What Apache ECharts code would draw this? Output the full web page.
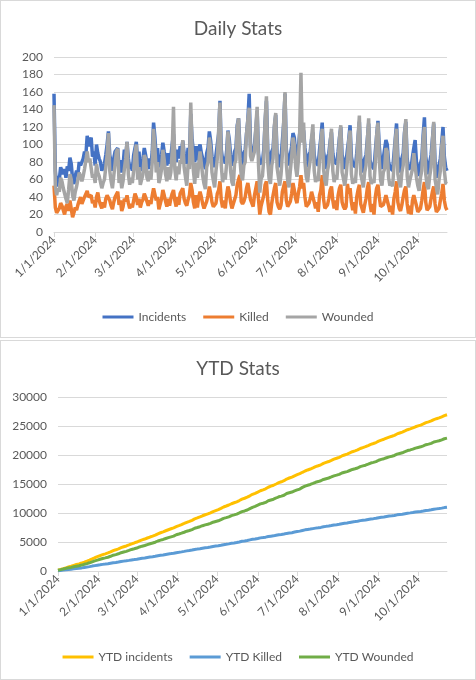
<!DOCTYPE html>
<html>
<head>
<meta charset="utf-8">
<title>Daily / YTD Stats</title>
<script src="https://cdn.jsdelivr.net/npm/echarts@6/dist/echarts.min.js"></script>
<style>
    html, body { margin: 0; padding: 0; background: #fff; }
    .panel { width: 476px; box-sizing: border-box; border: 1px solid #d9d9d9; background: #fff; }
    #daily { height: 338px; }
    #ytd { height: 340px; margin-top: 2px; }
</style>
</head>
<body>
<div id="daily" class="panel"></div>
<div id="ytd" class="panel"></div>
<script>
// Daily counts from 1/1/2024, one line per week (Mon..Sun)
const incidents = [
    158, 70, 52, 64, 60, 74, 70,
    66, 72, 62, 75, 70, 85, 78,
    60, 55, 64, 70, 66, 80, 76,
    74, 84, 92, 88, 110, 98, 104,
    108, 86, 92, 76, 100, 90, 84,
    80, 70, 74, 78, 88, 100, 115,
    88, 80, 70, 84, 92, 90, 96,
    74, 82, 68, 76, 94, 86, 103,
    84, 72, 78, 70, 88, 96, 103,
    80, 92, 70, 76, 84, 96, 88,
    78, 72, 84, 76, 92, 125, 108,
    86, 96, 74, 80, 88, 102, 92,
    84, 76, 90, 78, 86, 100, 112,
    88, 80, 94, 84, 98, 92, 104,
    90, 86, 78, 96, 88, 135, 106,
    92, 80, 98, 82, 94, 100, 90,
    84, 78, 72, 90, 96, 115, 104,
    86, 82, 74, 88, 100, 112, 150,
    94, 82, 86, 78, 92, 116, 106,
    88, 80, 76, 92, 96, 122, 130,
    98, 86, 76, 90, 94, 112, 128,
    158, 98, 86, 84, 100, 116, 138,
    90, 78, 80, 80, 94, 126, 150,
    94, 82, 74, 92, 96, 120, 134,
    90, 86, 74, 84, 104, 124, 158,
    94, 84, 76, 88, 98, 113, 108,
    90, 84, 96, 112, 122, 104, 116,
    96, 84, 74, 88, 92, 106, 114,
    88, 80, 80, 76, 94, 108, 125,
    92, 82, 72, 86, 90, 104, 114,
    90, 80, 80, 78, 92, 108, 120,
    88, 82, 72, 80, 94, 106, 122,
    86, 78, 78, 74, 90, 108, 126,
    84, 80, 68, 84, 88, 106, 124,
    82, 76, 76, 72, 92, 110, 127,
    98, 80, 72, 84, 86, 105, 100,
    80, 74, 74, 70, 88, 106, 124,
    86, 80, 68, 84, 90, 114, 126,
    84, 72, 74, 74, 86, 96, 105,
    80, 72, 64, 78, 84, 110, 131,
    86, 74, 66, 80, 88, 106, 124,
    80, 70, 62, 76, 84, 102, 120,
    86, 74, 70
];

const killed = [
    53, 28, 22, 20, 27, 33, 30,
    25, 20, 29, 32, 24, 36, 34,
    17, 22, 28, 25, 31, 36, 40,
    32, 36, 40, 38, 47, 40, 38,
    42, 33, 36, 28, 40, 45, 36,
    31, 27, 34, 28, 38, 42, 44,
    36, 30, 26, 34, 40, 38, 46,
    31, 36, 24, 29, 38, 35, 42,
    33, 27, 32, 28, 36, 44, 40,
    31, 38, 28, 34, 37, 44, 40,
    35, 30, 36, 32, 42, 50, 48,
    36, 40, 26, 32, 38, 48, 42,
    35, 29, 38, 30, 38, 44, 48,
    36, 29, 40, 31, 44, 42, 50,
    38, 33, 30, 37, 42, 56, 48,
    34, 27, 42, 28, 40, 46, 40,
    32, 27, 26, 35, 42, 52, 44,
    34, 29, 27, 33, 44, 48, 58,
    36, 28, 36, 27, 42, 52, 46,
    34, 27, 28, 37, 42, 54, 60,
    65, 35, 32, 35, 40, 50, 56,
    54, 37, 36, 29, 42, 50, 58,
    38, 20, 30, 31, 42, 54, 58,
    36, 23, 20, 33, 42, 50, 56,
    34, 29, 26, 31, 46, 52, 58,
    36, 29, 28, 35, 44, 56, 48,
    38, 33, 44, 52, 65, 50, 56,
    40, 29, 28, 33, 38, 46, 48,
    34, 27, 34, 23, 42, 48, 65,
    38, 27, 26, 31, 38, 48, 52,
    36, 27, 36, 25, 42, 50, 54,
    34, 29, 26, 29, 55, 44, 50,
    34, 25, 34, 21, 40, 48, 54,
    32, 27, 22, 31, 38, 50, 57,
    32, 23, 32, 20, 40, 50, 54,
    40, 29, 28, 31, 36, 42, 40,
    30, 23, 30, 20, 38, 46, 58,
    34, 27, 24, 31, 40, 48, 52,
    32, 21, 30, 20, 36, 42, 44,
    30, 23, 22, 27, 36, 48, 57,
    34, 25, 24, 29, 38, 46, 52,
    32, 23, 22, 27, 36, 44, 55,
    36, 28, 25
];

const wounded = [
    145, 52, 42, 50, 46, 62, 58,
    50, 44, 38, 33, 48, 66, 60,
    42, 36, 46, 52, 50, 68, 64,
    58, 64, 72, 70, 92, 80, 84,
    82, 62, 66, 56, 78, 68, 64,
    62, 50, 56, 60, 74, 88, 113,
    70, 58, 50, 64, 78, 92, 95,
    56, 66, 50, 58, 72, 84, 103,
    66, 54, 62, 56, 70, 90, 100,
    60, 74, 54, 60, 66, 88, 84,
    62, 58, 70, 60, 80, 118, 96,
    68, 80, 56, 62, 72, 94, 82,
    66, 58, 74, 60, 68, 92, 143,
    72, 59, 75, 66, 82, 78, 105,
    74, 63, 53, 78, 72, 148, 96,
    70, 55, 79, 62, 78, 92, 78,
    64, 55, 49, 74, 80, 108, 94,
    68, 59, 51, 70, 84, 116, 148,
    76, 57, 67, 60, 78, 115, 98,
    70, 57, 53, 78, 82, 120, 130,
    84, 65, 59, 76, 80, 112, 128,
    142, 87, 81, 80, 92, 120, 143,
    78, 45, 61, 64, 84, 128, 155,
    80, 61, 55, 76, 84, 122, 136,
    74, 63, 53, 66, 88, 126, 160,
    78, 59, 51, 70, 86, 108, 100,
    74, 63, 81, 112, 182, 102, 125,
    80, 63, 57, 72, 82, 108, 123,
    70, 57, 63, 58, 82, 104, 118,
    72, 59, 53, 70, 78, 102, 118,
    70, 57, 65, 60, 80, 106, 122,
    68, 61, 53, 64, 82, 104, 116,
    66, 55, 61, 56, 78, 108, 133,
    66, 59, 51, 68, 76, 104, 130,
    64, 55, 59, 56, 78, 110, 125,
    82, 59, 53, 68, 72, 96, 92,
    62, 53, 57, 52, 74, 104, 118,
    66, 57, 51, 68, 76, 112, 129,
    64, 51, 59, 58, 72, 90, 92,
    62, 53, 47, 62, 70, 104, 120,
    66, 53, 49, 64, 74, 104, 126,
    60, 51, 43, 60, 70, 98, 110,
    70, 56, 55
];

const startDate = [2024, 0, 1];
const dailyNames = ['Incidents', 'Killed', 'Wounded'];
const ytdNames = ['YTD incidents', 'YTD Killed', 'YTD Wounded'];
const dailyColors = ['#4472C4', '#ED7D31', '#A5A5A5'];
const ytdColors = ['#FFC000', '#5B9BD5', '#70AD47'];

const FONT = 'Lato, "Open Sans", sans-serif';
const TEXT = '#595959';

// one label per day, M/D/YYYY like the spreadsheet
const dates = incidents.map((_, i) => {
    const d = new Date(Date.UTC(startDate[0], startDate[1], startDate[2] + i));
    return (d.getUTCMonth() + 1) + '/' + d.getUTCDate() + '/' + d.getUTCFullYear();
});

// YTD = running totals of the daily counts
const runningTotal = arr => {
    let sum = 0;
    return arr.map(v => (sum += v));
};

const isMonthStart = (idx, val) => val.split('/')[1] === '1';

function buildOption(title, names, colors, series, yMax, yStep, layout) {
    return {
        animation: false,
        textStyle: { fontFamily: FONT },
        title: {
            text: title,
            left: 'center',
            top: 13,
            textStyle: { fontFamily: FONT, fontSize: 19, fontWeight: 'normal', color: TEXT }
        },
        legend: {
            data: names,
            top: layout.legendTop,
            left: 'center',
            icon: 'rect',
            itemWidth: 31,
            itemHeight: 3,
            itemGap: 17,
            textStyle: { fontFamily: FONT, fontSize: 12, color: TEXT }
        },
        grid: { left: layout.left, right: layout.right, top: layout.top, bottom: layout.bottom },
        xAxis: {
            type: 'category',
            data: dates,
            boundaryGap: false,
            axisLine: { lineStyle: { color: '#d9d9d9', width: 1 } },
            axisTick: { interval: isMonthStart, length: 5, lineStyle: { color: '#d9d9d9' } },
            axisLabel: {
                interval: isMonthStart,
                rotate: 45,
                margin: 6,
                fontFamily: FONT,
                fontSize: 12,
                color: TEXT
            },
            splitLine: { show: false }
        },
        yAxis: {
            type: 'value',
            min: 0,
            max: yMax,
            interval: yStep,
            axisLine: { show: false },
            axisTick: { show: false },
            axisLabel: {
                margin: 11,
                fontFamily: FONT,
                fontSize: 12,
                color: TEXT,
                formatter: v => String(v)   // no thousands separator
            },
            splitLine: { lineStyle: { color: '#d9d9d9', width: 1 } }
        },
        series: series.map((data, i) => ({
            name: names[i],
            type: 'line',
            data: data,
            symbol: 'none',
            lineStyle: { width: layout.lineWidth, color: colors[i] },
            itemStyle: { color: colors[i] }
        }))
    };
}

const dailyChart = echarts.init(document.getElementById('daily'));
dailyChart.setOption(buildOption(
    'Daily Stats', dailyNames, dailyColors,
    [incidents, killed, wounded], 200, 20,
    { left: 53, right: 28, top: 56, bottom: 105, legendTop: 305, lineWidth: 3.5 }
));

const ytdChart = echarts.init(document.getElementById('ytd'));
ytdChart.setOption(buildOption(
    'YTD Stats', ytdNames, ytdColors,
    [runningTotal(incidents), runningTotal(killed), runningTotal(wounded)], 30000, 5000,
    { left: 57, right: 28, top: 56, bottom: 108, legendTop: 305, lineWidth: 3 }
));
</script>
</body>
</html>
